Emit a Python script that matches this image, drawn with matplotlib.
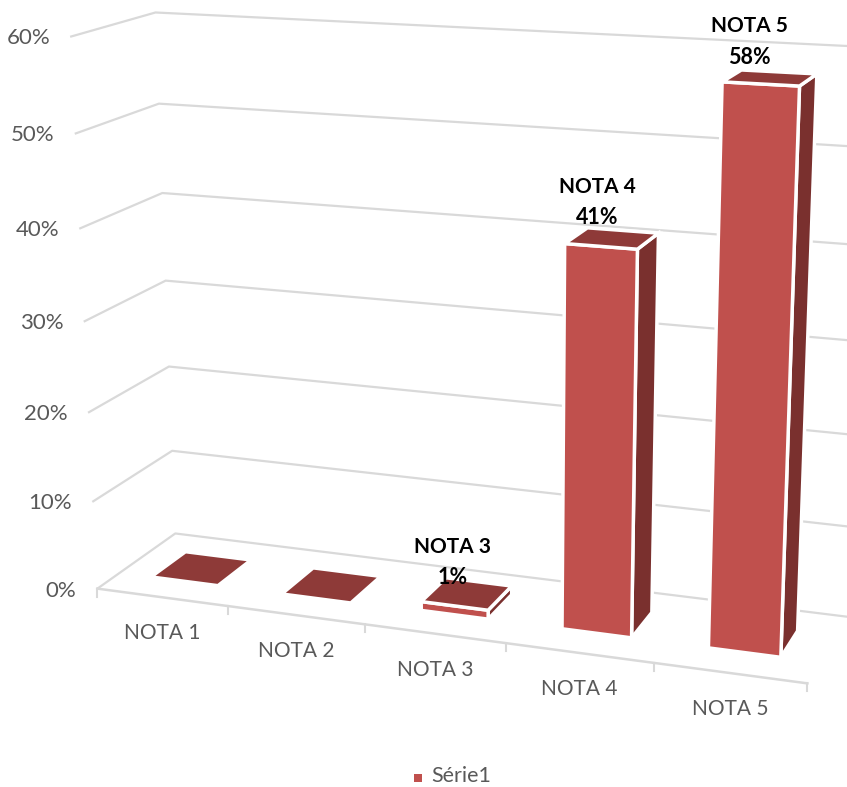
import numpy as np
import matplotlib
matplotlib.use('Agg')
import matplotlib.pyplot as plt
from matplotlib.patches import Polygon, Rectangle

plt.rcParams['font.family'] = ['Lato', 'DejaVu Sans']

categories = ['NOTA 1', 'NOTA 2', 'NOTA 3', 'NOTA 4', 'NOTA 5']
values = [0, 0, 1, 41, 58]
yticks = [0, 10, 20, 30, 40, 50, 60]
series_name = 'Série1'

FRONT = '#C0504D'
TOP = '#8E3A38'
SIDE = '#7A302E'
GRID = '#D9D9D9'
GREY = '#595959'

# the "3d" box: u along the categories, v in percent, d into the depth
# some box points and where they land in the picture, the camera is fitted on them
box = [(0, 0, 0), (.2, 0, 0), (.6, 0, 0), (.8, 0, 0), (1, 0, 0), (0, 0, 1), (1, 0, 1),
       (0, 60, 0), (0, 60, 1), (1, 60, 1), (0, 30, 0), (0, 30, 1),
       (.853, 58, .3), (.949, 58, .3), (.949, 0, .3), (.853, 0, .3),
       (.949, 58, .7), (.853, 58, .7), (.949, 0, .7),
       (.653, 41, .3), (.749, 41, .3), (.749, 0, .3), (.653, 0, .3),
       (.749, 41, .7), (.653, 41, .7), (.749, 0, .7),
       (.053, 0, .3), (.147, 0, .3), (.147, 0, .7), (.053, 0, .7),
       (.253, 0, .3), (.347, 0, .3), (.347, 0, .7), (.253, 0, .7)]
pix = [(95, 590), (227, 608), (505, 645), (652, 665), (806, 684), (176, 534), (850, 618),
       (72, 35), (160, 10), (850, 45), (83, 322), (168, 279),
       (722, 82), (800, 87), (782, 657), (707, 647),
       (818, 74), (743, 68), (798, 632),
       (565, 243), (638, 250), (632, 637), (561, 628),
       (658, 236), (585, 227), (653, 612),
       (157, 576), (217, 583), (243, 562), (185, 556),
       (288, 593), (352, 600), (374, 578), (314, 572)]

A = []
b = []
for k, ((u, v, d), (x, y)) in enumerate(zip(box, pix)):
    # the tall bars count more, small misses there show the most
    w = 3 if 12 <= k <= 25 else 1
    A.append([w*c for c in [u, v, d, 1, 0, 0, 0, 0, -x*u, -x*v, -x*d]])
    A.append([w*c for c in [0, 0, 0, 0, u, v, d, 1, -y*u, -y*v, -y*d]])
    b += [w*x, w*y]
cam = np.linalg.lstsq(np.array(A, float), np.array(b, float), rcond=None)[0]
cam = np.append(cam, 1).reshape(3, 4)


def proj(u, v, d):
    p = cam @ np.array([u, v, d, 1.0])
    return p[0]/p[2], p[1]/p[2]


fig = plt.figure(figsize=(8.47, 7.87), dpi=100)
ax = fig.add_axes([0, 0, 1, 1])
ax.set_xlim(0, 847)
ax.set_ylim(787, 0)
ax.axis('off')

# walls and floor
for t in yticks:
    p0 = proj(0, t, 0)
    p1 = proj(0, t, 1)
    p2 = proj(1, t, 1)
    ax.plot([p0[0], p1[0], p2[0]], [p0[1], p1[1], p2[1]], color=GRID, lw=1.6, zorder=1)
    ax.text(p0[0]-21, p0[1]+2, str(t)+'%', ha='right', va='center', color=GREY, fontsize=16)

p0 = proj(0, 0, 0)
p1 = proj(1, 0, 0)
ax.plot([p0[0], p1[0]], [p0[1], p1[1]], color=GRID, lw=1.8, zorder=1)

n = len(categories)
for i in range(n+1):
    x, y = proj(i/n, 0, 0)
    ax.plot([x, x], [y, y+8], color=GRID, lw=1.5, zorder=1)

for i, c in enumerate(categories):
    x, y = proj((i+.5)/n, 0, 0)
    ax.text(x, y+36, c, ha='center', va='center', color=GREY, fontsize=15)

# bars, they do not overlap so the order does not matter
d0 = .3
d1 = .7
for i, val in enumerate(values):
    u0 = (i+.265)/n
    u1 = (i+.745)/n
    edge = 'white' if val > 0 else 'none'
    lw = 2.5 if val > 0 else 0
    front = [proj(u0, 0, d0), proj(u1, 0, d0), proj(u1, val, d0), proj(u0, val, d0)]
    side = [proj(u1, 0, d0), proj(u1, 0, d1), proj(u1, val, d1), proj(u1, val, d0)]
    top = [proj(u0, val, d0), proj(u1, val, d0), proj(u1, val, d1), proj(u0, val, d1)]
    if val > 0:
        ax.add_patch(Polygon(side, closed=True, fc=SIDE, ec=edge, lw=lw, zorder=3))
        ax.add_patch(Polygon(front, closed=True, fc=FRONT, ec=edge, lw=lw, zorder=3))
    ax.add_patch(Polygon(top, closed=True, fc=TOP, ec=edge, lw=lw, zorder=3))

# data labels
lab = {2: (453, 547, 577), 3: (597, 187, 217), 4: (749, 26, 57)}
for i, val in enumerate(values):
    if val == 0:
        continue
    x, y1, y2 = lab[i]
    ax.text(x, y1, categories[i], ha='center', va='center', color='black',
            fontsize=15, fontweight='bold', zorder=5)
    ax.text(x, y2, str(val)+'%', ha='center', va='center', color='black',
            fontsize=15.5, fontweight='bold', zorder=5)

# legend
ax.add_patch(Rectangle((414, 774), 8, 8, fc=FRONT, ec='none'))
ax.text(431, 776, series_name, ha='left', va='center', color=GREY, fontsize=15.5)

fig.savefig('out.png', dpi=100)
